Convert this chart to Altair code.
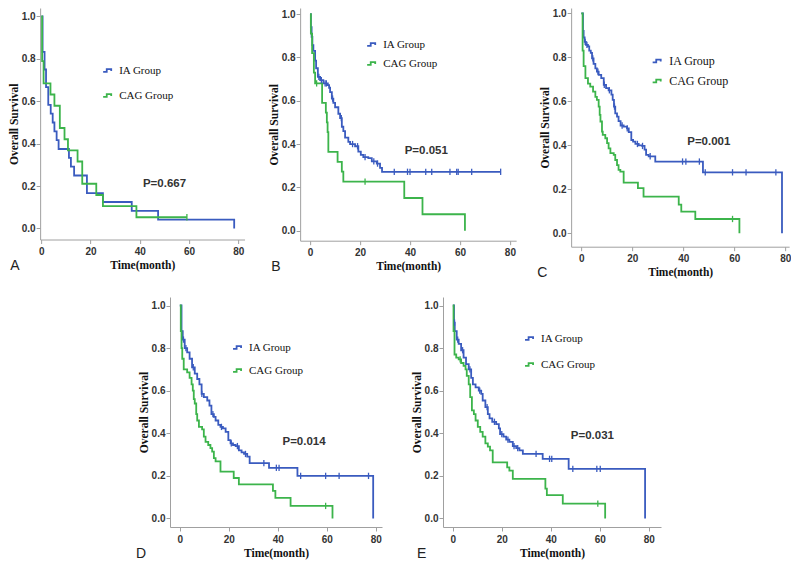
import altair as alt
import pandas as pd

GROUPS = ["IA Group", "CAG Group"]
COLORS = ["#3a5bbf", "#3cb44b"]

# ---------------- Panel A ----------------
IA_A_t = [0, 0.5, 1.3, 1.9, 2.8, 3.8, 4.6, 5.3, 6.2, 7.0, 11.2, 12.0, 13.3, 18.5, 25.0, 36.7, 47.4, 78.3]
IA_A_s = [1.0, 0.833, 0.75, 0.667, 0.583, 0.542, 0.5, 0.458, 0.417, 0.375, 0.333, 0.292, 0.25, 0.167, 0.125, 0.083, 0.042, 0.0]
IA_A_c = []
CAG_A_t = [0, 0.3, 0.9, 3.7, 5.3, 7.5, 9.4, 10.8, 14.7, 16.6, 22.3, 25.0, 38.6, 59.1]
CAG_A_s = [1.0, 0.789, 0.684, 0.632, 0.579, 0.474, 0.421, 0.368, 0.316, 0.211, 0.158, 0.105, 0.053, 0.053]
CAG_A_c = [59.1]

# ---------------- Panel B ----------------
IA_B_t = [0, 0.3, 0.6, 0.9, 1.3, 2.0, 2.4, 3.1, 4.0, 5.3, 7.1, 7.6, 8.0, 8.7, 9.3, 10.0, 11.3, 12.0, 12.7, 13.3,
          14.0, 15.3, 16.0, 18.0, 19.3, 20.3, 21.3, 23.3, 24.7, 26.7, 28.0, 28.8, 76.3]
IA_B_s = [1.0, 0.94, 0.895, 0.857, 0.83, 0.785, 0.75, 0.71, 0.695, 0.68, 0.672, 0.66, 0.64, 0.61, 0.59, 0.57, 0.54, 0.52, 0.48, 0.46,
          0.43, 0.41, 0.40, 0.39, 0.365, 0.35, 0.34, 0.335, 0.32, 0.31, 0.29, 0.272, 0.272]
IA_B_c = [3.5, 4.5, 6.0, 6.5, 9.0, 12.5, 17.0, 19.0, 22.0, 25.5, 27.0, 33.7, 39.0, 40.0, 46.3, 48.7, 56.0, 58.7, 59.3, 64.7, 76.3]
CAG_B_t = [0, 0.3, 0.8, 1.5, 2.0, 4.8, 6.3, 6.7, 7.0, 7.3, 11.0, 12.7, 13.3, 37.7, 45.0, 62.0]
CAG_B_s = [1.0, 0.91, 0.82, 0.73, 0.68, 0.59, 0.545, 0.50, 0.455, 0.364, 0.318, 0.273, 0.227, 0.151, 0.076, 0.0]
CAG_B_c = [2.6, 22.0]

# ---------------- Panel C ----------------
IA_C_t = [0, 0.65, 0.9, 1.3, 1.8, 2.6, 3.1, 3.7, 4.2, 4.8, 5.5, 6.1, 6.8, 7.8, 8.8, 9.7, 10.7, 11.8, 12.3, 12.8,
          13.3, 14.0, 14.6, 15.4, 16.6, 17.9, 18.6, 19.6, 20.3, 21.2, 22.5, 23.8, 24.8, 25.4, 26.4, 29.0, 47.7, 78.7]
IA_C_s = [1.0, 0.92, 0.89, 0.87, 0.856, 0.85, 0.83, 0.82, 0.795, 0.77, 0.75, 0.735, 0.72, 0.705, 0.675, 0.66, 0.65, 0.63, 0.606, 0.576,
          0.545, 0.53, 0.51, 0.49, 0.485, 0.477, 0.46, 0.424, 0.417, 0.406, 0.40, 0.397, 0.38, 0.356, 0.35, 0.326, 0.277, 0.0]
IA_C_c = [1.5, 2.2, 4.5, 6.5, 9.0, 11.0, 13.0, 16.0, 18.0, 22.0, 24.0, 27.0, 39.7, 41.0, 46.3, 48.6, 59.3, 64.6, 76.3]
CAG_C_t = [0, 0.5, 0.9, 1.6, 2.6, 3.5, 4.6, 5.5, 6.1, 6.8, 7.2, 7.5, 8.1, 8.4, 9.4, 10.1, 10.7, 11.4, 12.7, 13.3,
           14.0, 14.6, 15.3, 16.6, 22.2, 24.4, 38.2, 39.2, 44.7, 62.0]
CAG_C_s = [1.0, 0.83, 0.76, 0.705, 0.68, 0.667, 0.644, 0.62, 0.606, 0.576, 0.538, 0.508, 0.462, 0.447, 0.432, 0.41, 0.386, 0.364, 0.356, 0.333,
           0.31, 0.288, 0.28, 0.23, 0.205, 0.167, 0.13, 0.098, 0.065, 0.0]
CAG_C_c = [59.3]

# ---------------- Panel D ----------------
IA_D_t = [0, 0.7, 1.2, 2.0, 3.0, 4.0, 5.0, 6.1, 7.1, 8.0, 8.9, 9.8, 11.2, 12.1, 12.9, 13.9, 14.6, 15.7, 16.6, 17.6,
          18.7, 19.8, 20.7, 21.7, 22.8, 24.1, 25.2, 26.2, 27.5, 28.5, 36.4, 48.0, 78.9]
IA_D_s = [1.0, 0.88, 0.84, 0.80, 0.78, 0.75, 0.71, 0.68, 0.655, 0.63, 0.585, 0.57, 0.554, 0.53, 0.49, 0.477, 0.46, 0.44, 0.43, 0.423,
          0.407, 0.368, 0.353, 0.345, 0.34, 0.32, 0.31, 0.303, 0.29, 0.26, 0.238, 0.20, 0.0]
IA_D_c = [1.5, 2.5, 5.5, 9.0, 13.5, 17.0, 21.0, 23.5, 26.8, 34.3, 39.4, 40.5, 49.3, 59.5, 65.0, 77.0]
CAG_D_t = [0, 0.4, 0.7, 1.0, 1.6, 3.0, 4.0, 4.8, 5.3, 5.7, 6.1, 6.7, 7.1, 7.8, 9.1, 9.8, 10.5, 11.6, 12.5, 13.2,
           13.9, 14.6, 16.6, 22.0, 24.1, 38.0, 39.0, 45.2, 62.3]
CAG_D_s = [1.0, 0.88, 0.80, 0.75, 0.70, 0.686, 0.66, 0.63, 0.60, 0.56, 0.54, 0.49, 0.46, 0.43, 0.418, 0.384, 0.36, 0.345, 0.33, 0.314,
           0.283, 0.268, 0.22, 0.19, 0.16, 0.13, 0.097, 0.059, 0.0]
CAG_D_c = [59.5]

# ---------------- Panel E ----------------
IA_E_t = [0, 0.5, 0.8, 1.6, 2.4, 3.4, 4.4, 5.4, 6.5, 7.5, 8.2, 9.3, 10.6, 11.6, 12.2, 13.3, 14.3, 15.0, 16.1, 17.7,
          18.8, 19.3, 20.7, 21.8, 23.1, 24.5, 25.9, 27.2, 28.6, 36.7, 47.3, 78.5]
IA_E_s = [1.0, 0.92, 0.88, 0.84, 0.82, 0.79, 0.755, 0.725, 0.70, 0.66, 0.63, 0.616, 0.60, 0.585, 0.554, 0.523, 0.49, 0.47, 0.454, 0.443,
          0.423, 0.396, 0.384, 0.37, 0.36, 0.34, 0.33, 0.32, 0.303, 0.28, 0.233, 0.0]
IA_E_c = [0.7, 2.0, 4.0, 7.0, 11.0, 14.0, 17.0, 20.0, 22.5, 25.0, 26.5, 34.0, 39.5, 40.4, 49.0, 58.8, 60.2]
CAG_E_t = [0, 0.3, 0.7, 1.4, 2.4, 3.4, 4.4, 5.2, 5.7, 6.5, 7.1, 7.8, 8.6, 9.3, 10.2, 11.2, 12.2, 13.3, 14.3, 15.2,
           16.3, 22.2, 23.1, 24.5, 37.8, 38.4, 44.9, 62.2]
CAG_E_s = [1.0, 0.88, 0.77, 0.755, 0.747, 0.73, 0.717, 0.70, 0.67, 0.63, 0.57, 0.508, 0.49, 0.46, 0.43, 0.407, 0.384, 0.353, 0.337, 0.32,
           0.263, 0.24, 0.225, 0.186, 0.14, 0.11, 0.07, 0.0]
CAG_E_c = [3.0, 59.2]

P_TEXT = ["P=0.667", "P=0.051", "P=0.001", "P=0.014", "P=0.031"]
P_T = [50, 46.5, 50, 50.7, 57]
P_S = [0.21, 0.37, 0.416, 0.358, 0.387]
LETTERS = ["A", "B", "C", "D", "E"]

X_TICKS = [0, 20, 40, 60, 80]
Y_TICKS = [0.0, 0.2, 0.4, 0.6, 0.8, 1.0]


def surv_at(ts, ss, c):
    val = ss[0]
    for t, s in zip(ts, ss):
        if t <= c:
            val = s
    return val


def panel(i, ia, cag, xdom, ydom, w, h, legx, legy, rowpad, letter_dx, legfont=11):
    rows, cens = [], []
    for g, (ts, ss, cs) in zip(GROUPS, [ia, cag]):
        for t, s in zip(ts, ss):
            rows.append({"t": t, "s": s, "group": g})
        for c in cs:
            cens.append({"t": c, "s": surv_at(ts, ss, c), "group": g})
    df = pd.DataFrame(rows)
    dc = pd.DataFrame(cens if cens else [], columns=["t", "s", "group"])

    xs = alt.Scale(domain=xdom, nice=False, zero=False)
    ys = alt.Scale(domain=ydom, nice=False, zero=False)
    xax = alt.Axis(values=X_TICKS, format="d", title="Time(month)")
    yax = alt.Axis(values=Y_TICKS, format=".1f", title="Overall Survival")
    color = alt.Color(
        "group:N",
        scale=alt.Scale(domain=GROUPS, range=COLORS),
        sort=GROUPS,
        legend=alt.Legend(
            title=None, orient="none", legendX=legx, legendY=legy, direction="vertical",
            symbolType="M-1,0.3L-0.2,0.3L-0.2,-0.3L0.8,-0.3L0.8,0.1",
            symbolSize=80, symbolStrokeWidth=1.8, symbolFillColor="transparent",
            labelFont="Liberation Serif", labelFontSize=legfont, labelColor="#111",
            rowPadding=rowpad, labelOffset=6,
        ),
    )
    line = alt.Chart(df).mark_line(interpolate="step-after", strokeWidth=1.8).encode(
        x=alt.X("t:Q", scale=xs, axis=xax),
        y=alt.Y("s:Q", scale=ys, axis=yax),
        color=color,
        detail="group:N",
    )
    layers = [line]
    if len(dc):
        pts = alt.Chart(dc).mark_point(shape="M0,-1L0,1", size=40, filled=False, strokeWidth=1.3, opacity=1).encode(
            x="t:Q", y="s:Q", color=color,
        )
        layers.append(pts)
    ptxt = alt.Chart(pd.DataFrame({"t": [P_T[i]], "s": [P_S[i]], "lab": [P_TEXT[i]]})).mark_text(
        font="Liberation Sans", fontSize=11.5, fontWeight="bold", color="#333"
    ).encode(x="t:Q", y="s:Q", text="lab:N")
    layers.append(ptxt)
    return alt.layer(*layers).properties(
        width=w, height=h,
        title=alt.TitleParams(
            text=LETTERS[i], orient="bottom", anchor="start", frame="group",
            dx=letter_dx, dy=-16, font="Liberation Sans", fontSize=14, fontWeight="normal", color="#222",
        ),
    )


pA = panel(0, (IA_A_t, IA_A_s, IA_A_c), (CAG_A_t, CAG_A_s, CAG_A_c), [-0.5, 82.5], [-0.052, 1.04], 204.4, 231.5, 62, 57, 13, -30)
pB = panel(1, (IA_B_t, IA_B_s, IA_B_c), (CAG_B_t, CAG_B_s, CAG_B_c), [-4, 82.5], [-0.046, 1.028], 216, 232.7, 66, 31, 7, -29)
pC = panel(2, (IA_C_t, IA_C_s, IA_C_c), (CAG_C_t, CAG_C_s, CAG_C_c), [-4, 81.5], [-0.061, 1.024], 218, 238.7, 80, 47, 8, -34, 12)
pD = panel(3, (IA_D_t, IA_D_s, IA_D_c), (CAG_D_t, CAG_D_s, CAG_D_c), [-4, 82.5], [-0.04, 1.04], 212, 230, 62, 45, 11, -34)
pE = panel(4, (IA_E_t, IA_E_s, IA_E_c), (CAG_E_t, CAG_E_s, CAG_E_c), [-4, 85], [-0.04, 1.04], 218, 230, 81, 36, 14, -26)

top = alt.hconcat(pA, pB, pC, spacing=55, bounds="flush").resolve_scale(color="independent").resolve_legend(color="independent")
bottom = alt.hconcat(pD, pE, spacing=61, bounds="flush").resolve_scale(color="independent").resolve_legend(color="independent")

chart = alt.vconcat(top, bottom, spacing=16, center=True).resolve_scale(
    color="independent"
).resolve_legend(color="independent").properties(
    padding=0, background="white"
).configure_view(stroke=None).configure_axis(
    grid=False, domainColor="#a0a0a0", tickColor="#a0a0a0", domainWidth=1, tickWidth=1, tickSize=4,
    labelFont="Liberation Sans", labelFontSize=10, labelFontWeight="bold", labelColor="#333",
    titleFont="Liberation Serif", titleFontWeight="bold", titleFontSize=11.5, titleColor="#111",
).configure_axisX(labelPadding=3, titlePadding=3).configure_axisY(labelPadding=1, titlePadding=2)

chart.save("out.html", embed_options={"renderer": "svg", "actions": False})
